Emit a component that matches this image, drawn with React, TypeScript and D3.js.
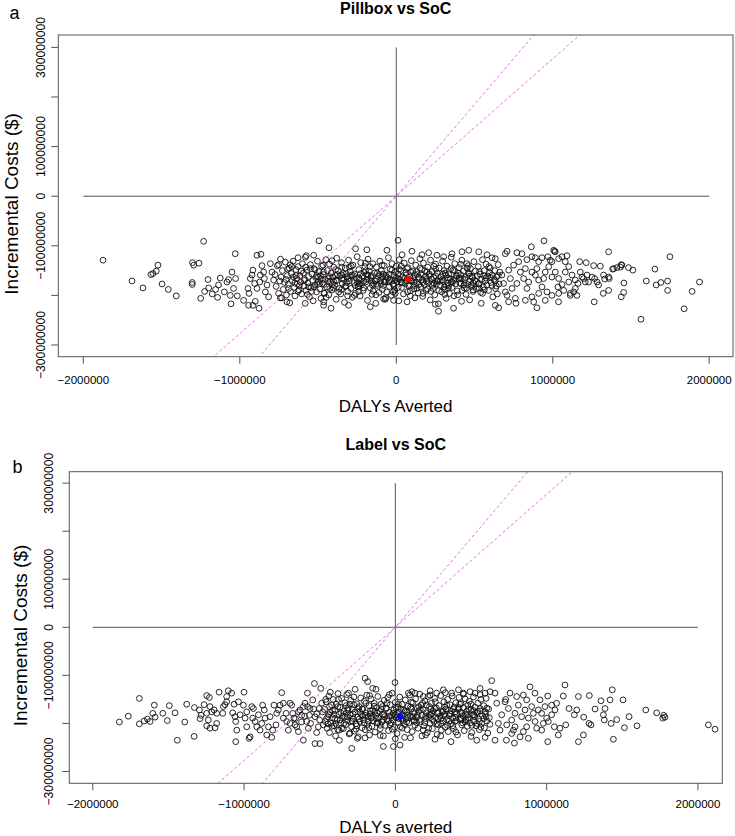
import React from "react";
import * as d3 from "d3";

// ---- Data (DALYs averted in thousands, incremental costs in millions of $) ----
const PILLBOX_POINTS: [number, number][] = [
  [-1874,-129],[-1231,-91],[-1689,-171],[-1619,-185],[-1568,-158],[-1555,-156],[-1534,-151],[-1523,-139],[-1497,-177],[-1457,-188],
  [-1406,-201],[-1302,-134],[-1295,-139],[-1261,-135],[-1304,-174],[-1304,-178],[-1250,-206],[-1225,-192],[-1203,-168],[-1199,-185],
  [-1176,-197],[-1155,-188],[-1142,-204],[-1136,-179],[-1125,-165],[-1099,-193],[-1082,-173],[-1072,-168],[-1061,-200],[-1056,-217],
  [-1050,-153],[-1040,-186],[-1029,-116],[-1027,-166],[-1016,-201],
  [-976,-210],[-944,-220],[-941,-196],[-933,-166],[-916,-149],[-905,-176],[-890,-119],[-865,-117],[-858,-140],[-901,-212],
  [-877,-226],[-916,-220],[-948,-186],[-922,-159],[-890,-186],[-869,-159],[-843,-166],[-826,-179],[-837,-193],[-805,-136],
  [-794,-153],[-816,-203],[-784,-169],[-848,-153],[-873,-173],
  [-494,-90],[-430,-104],[-260,-106],[-188,-108],[-60,-109],[-628,-124],[-575,-120],[-528,-119],[-752,-138],[-677,-138],
  [-582,-216],[-417,-226],[-305,-220],[-166,-223],[-699,-213],[-464,-220],[-17,-210],[-70,-208],[-464,-213],[-741,-205],
  [-775,-158],[-768,-182],[-760,-140],[-752,-196],[-745,-171],[-740,-127],[-733,-205],[-736,-163],
  [-728,-150],[-722,-188],[-715,-174],[-709,-133],[-702,-199],[-696,-160],[-690,-178],[-684,-145],[-681,-215],
  [-676,-192],[-671,-156],[-665,-170],[-659,-131],[-652,-184],[-647,-201],[-641,-148],[-636,-166],[-632,-177],
  [-627,-142],[-622,-189],[-616,-160],[-611,-173],[-605,-197],[-600,-136],[-594,-155],[-589,-181],[-584,-168],[-581,-123],
  [-577,-190],[-571,-149],[-566,-175],[-560,-162],[-555,-203],[-549,-138],[-544,-184],[-539,-157],[-534,-170],[-531,-211],
  [-526,-146],[-521,-179],[-515,-164],[-510,-193],[-504,-131],[-499,-172],[-494,-152],[-489,-187],[-484,-160],[-481,-206],
  [-477,-141],[-472,-176],[-466,-158],[-461,-195],[-455,-168],[-450,-128],[-445,-183],[-440,-150],[-435,-166],[-431,-199],
  [-427,-137],[-421,-172],[-416,-155],[-411,-189],[-405,-163],[-400,-143],[-394,-180],[-389,-160],[-384,-208],[-381,-125],
  [-377,-170],[-372,-150],[-366,-186],[-361,-161],[-355,-197],[-350,-134],[-344,-176],[-339,-156],[-334,-168],[-331,-214],
  [-326,-145],[-321,-181],[-316,-163],[-310,-192],[-305,-129],[-300,-171],[-295,-152],[-290,-186],[-285,-159],[-281,-204],
  [-277,-139],[-272,-174],[-266,-157],[-261,-196],[-255,-166],[-250,-122],[-244,-183],[-239,-148],[-234,-169],[-231,-201],
  [-227,-134],[-221,-178],[-216,-161],[-211,-190],[-205,-154],[-200,-142],[-195,-173],[-189,-158],[-184,-210],[-181,-127],
  [-177,-167],[-172,-151],[-166,-185],[-161,-164],[-155,-198],[-150,-136],[-145,-177],[-139,-155],[-134,-171],[-131,-216],
  [-127,-143],[-122,-180],[-116,-162],[-110,-194],[-105,-131],[-100,-170],[-95,-150],[-89,-188],[-84,-157],[-81,-207],
  [-77,-140],[-72,-173],[-66,-159],[-61,-193],[-55,-165],[-50,-124],[-44,-182],[-39,-147],[-34,-168],[-31,-200],
  [-27,-136],[-21,-177],[-16,-160],[-10,-189],[-5,-153],[0,-141],[5,-172],[11,-157],[16,-211],[19,-128],
  [24,-168],[29,-150],[35,-184],[40,-163],[46,-197],[51,-135],[57,-176],[62,-154],[67,-170],[69,-213],
  [74,-144],[79,-181],[85,-161],[90,-191],[96,-130],[101,-171],[106,-151],[112,-187],[117,-158],[119,-205],
  [124,-139],[129,-174],[135,-158],[140,-195],[146,-166],[151,-126],[156,-183],[162,-148],[167,-169],[169,-202],
  [174,-135],[179,-178],[185,-162],[190,-190],[196,-153],[201,-143],[206,-174],[212,-157],[217,-209],[219,-129],
  [224,-167],[229,-152],[235,-186],[240,-164],[246,-199],[251,-137],[257,-177],[262,-155],[267,-171],[269,-217],
  [274,-145],[279,-180],[285,-163],[290,-193],[296,-131],[301,-172],[306,-150],[312,-188],[317,-159],[319,-206],
  [324,-141],[329,-175],[335,-158],[340,-196],[346,-167],[351,-123],[356,-184],[362,-149],[367,-170],[369,-201],
  [374,-136],[379,-177],[385,-161],[390,-191],[396,-155],[401,-144],[406,-175],[412,-158],[417,-212],[419,-129],
  [424,-166],[429,-151],[435,-185],[440,-164],[446,-198],[451,-136],[457,-178],[462,-154],[467,-172],[469,-209],
  [474,-146],[479,-182],[485,-162],[490,-192],[496,-132],[501,-170],[506,-151],[512,-187],[517,-160],
  [524,-142],[529,-176],[535,-157],[540,-194],[546,-168],[551,-128],[556,-183],[562,-150],[567,-171],
  [574,-137],[579,-179],[585,-161],[590,-190],[596,-154],[601,-145],[606,-174],[612,-159],[617,-203],
  [624,-168],[629,-150],[635,-186],[640,-163],[646,-197],[651,-138],[657,-177],[662,-153],
  [-498,-163],[-462,-178],[-437,-171],[-402,-185],[-376,-158],[-347,-166],[-318,-174],[-292,-161],[-263,-180],[-238,-165],
  [-209,-172],[-182,-159],[-153,-179],[-124,-168],[-98,-176],[-67,-162],[-42,-170],[-14,-181],[13,-166],[38,-175],
  [63,-159],[92,-170],[118,-180],[143,-163],[171,-174],[197,-166],[226,-178],[253,-161],[281,-171],[307,-183],
  [333,-165],[358,-174],[386,-160],[413,-177],[438,-168],[466,-157],[492,-175],[-520,-148],[-410,-130],[-300,-143],
  [-196,-150],[-90,-139],[20,-147],[130,-152],[240,-141],[350,-146],[460,-140],[-460,-196],[-350,-188],[-240,-192],
  [-130,-199],[-20,-193],[90,-201],[200,-187],[310,-198],[420,-190],[530,-185],
  [-705,-168],[-688,-186],[-668,-142],[-648,-175],[-628,-192],[-608,-151],[-588,-170],[-568,-198],[-548,-146],[-528,-183],
  [-508,-160],[-488,-176],[-468,-139],[-448,-204],[-428,-162],[-408,-178],[-388,-148],[-368,-193],[-348,-159],[-328,-182],
  [-308,-166],[-288,-141],[-268,-200],[-248,-174],[-228,-156],[-208,-185],[-188,-168],[-168,-142],[-148,-191],[-128,-177],
  [-108,-158],[-88,-163],[-68,-205],[-48,-173],[-28,-149],[-8,-169],[12,-184],[32,-141],[52,-165],[72,-193],
  [92,-153],[112,-173],[132,-186],[152,-145],[172,-196],[192,-171],[212,-160],[232,-180],[252,-147],[272,-190],
  [292,-169],[312,-155],[332,-186],[352,-172],[372,-150],[392,-199],[412,-166],[432,-179],[452,-145],[472,-161],
  [492,-189],[512,-172],[532,-152],[552,-196],[572,-165],[592,-142],[612,-180],[632,-171],[652,-160],
  [-695,-147],[-657,-163],[-619,-180],[-579,-143],[-541,-192],[-503,-178],[-465,-153],[-425,-186],[-387,-170],[-349,-143],
  [-311,-201],[-273,-160],[-235,-177],[-197,-135],[-159,-171],[-121,-155],[-83,-180],[-45,-158],[-7,-196],[31,-173],
  [69,-146],[107,-165],[145,-178],[183,-150],[221,-192],[259,-170],[297,-157],[335,-181],[373,-166],[411,-137],
  [449,-185],[487,-164],[525,-177],[563,-189],[601,-164],[639,-181],
  [-640,-160],[-560,-183],[-480,-167],[-400,-172],[-320,-156],[-240,-181],[-160,-160],[-80,-173],[0,-164],[80,-178],
  [160,-158],[240,-175],[320,-180],[400,-167],[480,-178],[560,-160],
  [11,-89],[1172,-132],[1214,-134],[1261,-140],[1304,-141],[1251,-163],[1283,-173],[1187,-163],[1208,-173],[1161,-176],
  [1144,-186],[1112,-196],[1112,-200],[1293,-179],[1325,-159],[1332,-167],[1383,-147],[1410,-144],[1438,-138],
  [1059,-122],[1091,-120],[1080,-132],[1038,-126],[1006,-109],[1016,-112],[984,-129],[969,-122],[931,-124],[910,-132],
  [889,-124],[867,-122],[835,-128],[803,-116],[771,-114],[708,-111],[697,-116],[633,-126],[612,-124],[580,-118],
  [527,-112],[463,-109],[420,-112],[356,-116],[303,-122],[260,-119],[207,-114],[164,-118],[100,-111],[37,-118],
  [1016,-153],[995,-163],[1038,-166],[1059,-178],[1033,-183],[1070,-190],[1102,-173],[1123,-159],[1144,-169],[1176,-153],
  [1197,-166],[1219,-159],[1229,-173],[1268,-166],[974,-142],[952,-153],[942,-166],[910,-169],[889,-159],[931,-183],
  [963,-193],[910,-196],[867,-203],[835,-186],[846,-173],[814,-166],[793,-153],[771,-176],[740,-186],[729,-166],
  [718,-149],[750,-139],[782,-132],[697,-193],[686,-176],[675,-159],[708,-200],[825,-146],[867,-153],[899,-146],
  [995,-132],[1080,-153],[1102,-142],[1134,-193],[1155,-200],[1038,-196],[995,-200],[952,-210],[878,-213],[825,-210],
  [761,-206],[718,-213],
  [944,-90],[863,-102],[1012,-111],[1357,-112],[1749,-122],[1653,-147],[1484,-144],[1512,-149],[1442,-139],[1433,-143],
  [1389,-146],[1357,-163],[1361,-166],[1455,-175],[1598,-171],[1661,-179],[1691,-174],[1734,-171],[1938,-173],[1891,-192],
  [1734,-190],[1840,-227],[1564,-248],[1453,-194],[1438,-203],[1357,-190],[1323,-196],[1265,-213],[1037,-213],[899,-225],
  [765,-216],[654,-225],[633,-220],[543,-216],[366,-226],[270,-232],[249,-218],
];

const LABEL_POINTS: [number, number][] = [
  [-1824,-197],[-1765,-185],[-1692,-148],[-1692,-201],[-1661,-195],[-1639,-191],[-1621,-196],[-1603,-179],[-1588,-187],[-1593,-162],
  [-1537,-179],[-1507,-194],[-1494,-163],[-1456,-178],[-1441,-235],[-1392,-197],[-1379,-160],[-1330,-227],[-1328,-167],[-1295,-172],
  [-1291,-190],[-1284,-183],[-1264,-161],[-1247,-142],[-1229,-146],[-1247,-205],[-1225,-210],[-1192,-209],
  [-1214,-176],[-1198,-172],[-1181,-179],[-1165,-135],[-1141,-179],[-1126,-161],[-1115,-144],[-1104,-132],[-1082,-137],[-1075,-178],
  [-1066,-160],[-1060,-186],[-1055,-196],[-1048,-214],[-1055,-238],[-1000,-135],[-1004,-162],[-993,-189],[-982,-176],[-967,-231],
  [-960,-228],[-949,-165],[-943,-189],[-927,-196],[-916,-207],[-894,-214],[-877,-162],[-861,-189],[-850,-224],[-817,-229],
  [-802,-162],[-789,-203],[-773,-172],[-751,-136],[-740,-158],[-722,-179],[-707,-214],[-696,-200],[-685,-162],[-670,-189],
  [-652,-207],[-630,-172],[-608,-235],[-597,-158],[-581,-137],[-575,-210],[-568,-183],[-535,-117],[-531,-242],[-520,-219],
  [-498,-242],[-493,-127],[-487,-158],[-476,-203],
  [-1225,-165],[-1247,-179],[-1236,-193],[-1181,-200],[-1115,-155],[-1137,-165],[-1037,-155],[-1026,-182],[-982,-207],[-938,-169],
  [-905,-182],[-883,-200],[-866,-172],[-839,-207],[-828,-186],[-811,-214],[-784,-179],[-762,-162],[-740,-189],[-718,-196],
  [-696,-158],[-678,-179],[-663,-203],[-641,-217],[-619,-183],[-608,-165],[-586,-196],[-564,-169],[-546,-151],[-531,-186],
  [-509,-207],[-502,-169],
  [-200,-106],[-183,-113],[-150,-127],[-128,-129],[-266,-129],[-2,-115],[-288,-252],[-79,-248],[-13,-248],[-370,-235],[-251,-231],
  [-468,-171],[-463,-196],[-457,-155],[-451,-210],[-446,-186],[-440,-143],[-435,-219],[-430,-177],[-425,-200],[-421,-162],
  [-417,-188],[-411,-150],[-406,-205],[-400,-173],[-395,-226],[-390,-160],[-384,-193],[-379,-138],[-374,-181],[-371,-214],
  [-366,-166],[-361,-199],[-355,-148],[-350,-185],[-344,-211],[-339,-174],[-334,-157],[-329,-203],[-324,-179],[-321,-140],
  [-316,-194],[-311,-168],[-305,-222],[-300,-182],[-295,-152],[-289,-207],[-284,-171],[-279,-190],[-274,-145],[-271,-216],
  [-266,-176],[-261,-201],[-255,-159],[-250,-187],[-245,-228],[-239,-165],[-234,-196],[-229,-147],[-224,-182],[-221,-209],
  [-216,-170],[-211,-192],[-205,-154],[-200,-213],[-194,-178],[-189,-141],[-184,-202],[-179,-186],[-174,-163],[-171,-224],
  [-166,-180],[-161,-149],[-155,-206],[-150,-172],[-145,-194],[-139,-158],[-134,-218],[-129,-184],[-124,-167],[-121,-199],
  [-116,-144],[-111,-189],[-105,-175],[-100,-211],[-95,-160],[-89,-197],[-84,-181],[-79,-226],[-74,-152],[-71,-186],
  [-66,-204],[-61,-169],[-55,-191],[-50,-146],[-45,-215],[-39,-177],[-34,-161],[-29,-199],[-24,-183],[-21,-137],
  [-16,-193],[-11,-172],[-5,-208],[0,-156],[5,-188],[11,-221],[16,-166],[21,-198],[26,-178],[29,-145],
  [34,-207],[39,-183],[45,-160],[50,-195],[55,-172],[61,-229],[66,-151],[71,-190],[76,-176],[79,-213],
  [84,-164],[89,-199],[95,-141],[100,-185],[105,-170],[111,-217],[116,-157],[121,-193],[126,-180],[129,-204],
  [134,-149],[139,-187],[145,-168],[150,-210],[155,-175],[161,-139],[166,-196],[171,-162],[176,-226],[179,-183],
  [184,-171],[189,-205],[195,-153],[200,-190],[205,-178],[211,-219],[216,-144],[221,-186],[226,-165],[229,-200],
  [234,-182],[239,-158],[245,-211],[250,-174],[255,-196],[261,-148],[266,-188],[271,-168],[276,-223],[279,-179],
  [284,-203],[289,-163],[295,-185],[300,-142],[305,-214],[311,-176],[316,-195],[321,-155],[326,-181],[329,-208],
  [334,-170],[339,-192],[345,-150],[350,-217],[355,-184],[361,-161],[366,-201],[371,-174],[376,-143],[379,-189],
  [384,-211],[389,-166],[395,-196],[400,-157],[405,-180],[411,-224],[416,-171],[421,-146],[426,-191],[429,-177],
  [434,-159],[439,-203],[445,-184],[450,-167],[455,-215],[461,-149],[466,-193],[471,-175],[476,-206],[479,-162],
  [484,-188],[489,-154],[495,-199],[500,-171],[505,-219],[511,-182],[516,-145],[521,-196],[526,-166],
  [534,-205],[539,-178],[545,-158],[550,-191],[555,-213],[561,-169],[566,-150],[571,-200],[576,-184],
  [584,-163],[589,-209],[595,-176],[600,-148],[605,-195],[611,-220],[616,-170],[621,-188],
  [-440,-182],[-400,-190],[-360,-178],[-320,-186],[-280,-180],[-240,-191],[-200,-183],[-160,-189],[-120,-178],[-80,-192],
  [-40,-185],[0,-181],[40,-190],[80,-183],[120,-177],[160,-192],[200,-185],[240,-179],[280,-190],[320,-184],
  [360,-180],[400,-188],[440,-178],[480,-192],[520,-182],[560,-174],[600,-186],[-420,-206],[-340,-200],[-260,-212],
  [-180,-195],[-100,-204],[-20,-212],[60,-202],[140,-198],[220,-210],[300,-200],[380,-205],[460,-197],[540,-200],
  [-380,-165],[-300,-160],[-220,-170],[-140,-164],[-60,-168],[20,-160],[100,-166],[180,-158],[260,-169],[340,-162],
  [420,-167],[500,-160],
  [-455,-190],[-435,-165],[-415,-173],[-395,-200],[-375,-150],[-355,-210],[-335,-187],[-315,-172],[-295,-196],[-275,-161],
  [-255,-205],[-235,-176],[-215,-184],[-195,-158],[-175,-209],[-155,-187],[-135,-175],[-115,-198],[-95,-170],[-75,-182],
  [-55,-158],[-35,-203],[-15,-179],[5,-167],[25,-190],[45,-210],[65,-174],[85,-188],[105,-156],[125,-196],
  [145,-183],[165,-171],[185,-214],[205,-162],[225,-181],[245,-192],[265,-155],[285,-177],[305,-189],[325,-166],
  [345,-204],[365,-180],[385,-170],[405,-194],[425,-160],[445,-199],[465,-181],[485,-170],[505,-204],[525,-186],
  [545,-175],[565,-208],[585,-190],[605,-168],[625,-202],
  [-520,-180],[-500,-193],[-480,-176],[-560,-200],[-600,-185],[-640,-176],[-540,-170],[-620,-197],[-580,-165],[-660,-190],
  [-445,-201],[-405,-181],[-365,-193],[-325,-163],[-285,-195],[-245,-169],[-205,-199],[-165,-174],[-125,-190],[-85,-165],
  [-45,-195],[-5,-186],[35,-170],[75,-197],[115,-186],[155,-165],[195,-198],[235,-170],[275,-201],[315,-174],
  [355,-195],[395,-176],[435,-191],[475,-183],[515,-173],[555,-196],[595,-181],
  [-460,-150],[-380,-213],[-300,-220],[-200,-230],[-100,-225],[0,-232],[100,-230],[200,-224],[300,-226],[400,-218],
  [500,-227],[-430,-135],[-310,-137],[-170,-142],[-40,-140],[110,-134],[230,-132],[330,-136],[450,-139],[560,-140],
  [2069,-203],[2113,-212],[1774,-183],[1782,-187],[1767,-189],[1727,-178],[1655,-172],[1597,-205],[1514,-209],[1545,-186],
  [1505,-151],[1434,-130],[1441,-233],[1463,-192],[1426,-200],[1419,-151],[1381,-193],[1375,-182],[1386,-169],[1359,-153],
  [1320,-170],[1282,-142],[1293,-203],[1280,-200],[1243,-224],[1210,-238],[1245,-187],[1210,-144],[1199,-172],[1183,-182],
  [1148,-169],[1121,-120],[1110,-143],[1126,-203],[1088,-210],[1077,-224],[1066,-158],[1055,-172],[1033,-182],[1007,-143],
  [1007,-238],[1000,-189],[978,-200],[956,-151],[945,-172],[923,-196],[923,-137],[890,-124],[879,-231],[868,-207],
  [846,-141],[824,-228],[787,-241],[780,-214],[769,-221],[734,-235],[659,-235],[637,-111],[593,-229],[538,-235],
  [368,-238],[262,-233],[31,-245],
  [857,-172],[835,-186],[813,-162],[791,-179],[769,-193],[747,-169],[725,-155],[703,-182],[681,-200],[879,-189],
  [901,-165],[912,-179],[967,-179],[989,-165],[1011,-196],[1033,-162],[1051,-207],[967,-214],[934,-210],[868,-151],
  [802,-144],[758,-137],[729,-150],[846,-217],[791,-207],[736,-203],[692,-214],[670,-158],[659,-137],[626,-134],
  [593,-137],[560,-127],[527,-137],[494,-134],[450,-137],[417,-130],[372,-137],[317,-130],[273,-137],[229,-141],
  [185,-144],[130,-137],[86,-137],
];

const PILLBOX_MEAN: [number, number] = [75, -167];
const LABEL_MEAN: [number, number] = [31, -185];

const WTP_THRESHOLDS = [370, 277]; // $ per DALY averted

const X_TICKS = [-2000000, -1000000, 0, 1000000, 2000000];
const Y_TICKS = [-300000000, -200000000, -100000000, 0, 100000000, 200000000, 300000000];
const Y_LABELED = [-300000000, -100000000, 0, 100000000, 300000000];
const REF_X_EXTENT = [-2000000, 2000000];
const REF_Y_EXTENT = [-300000000, 300000000];

const DALY_UNIT = 1000;
const COST_UNIT = 1000000;

const FONT = "'Liberation Sans', Arial, Helvetica, sans-serif";
const AXIS_COLOR = "#555";

type PanelProps = {
  id: string;
  points: [number, number][];
  mean: [number, number];
  meanColor: string;
  title: string;
  letter: string;
  xLabel: string;
  box: { x0: number; x1: number; y0: number; y1: number };
  xDomain: [number, number];
  yDomain: [number, number];
  titleY: number;
  letterPos: [number, number];
  yTickLabelX: number;
  xTickLabelY: number;
  xTitleY: number;
  yTitleX: number;
};

function Panel(p: PanelProps) {
  const x = d3.scaleLinear().domain(p.xDomain).range([p.box.x0, p.box.x1]);
  const y = d3.scaleLinear().domain(p.yDomain).range([p.box.y1, p.box.y0]);
  const fmt = d3.format("d");
  const cx = (p.box.x0 + p.box.x1) / 2;
  const cy = (p.box.y0 + p.box.y1) / 2;
  const tick = 7;
  const line = d3.line<[number, number]>().x((d) => x(d[0])).y((d) => y(d[1]));
  return (
    <g>
      <defs>
        <clipPath id={`clip-${p.id}`}>
          <rect x={p.box.x0} y={p.box.y0} width={p.box.x1 - p.box.x0} height={p.box.y1 - p.box.y0} />
        </clipPath>
      </defs>
      <text x={cx} y={p.titleY} textAnchor="middle" fontWeight="bold" fontSize={16} fontFamily={FONT}>{p.title}</text>
      <text x={p.letterPos[0]} y={p.letterPos[1]} fontSize={18} fontFamily={FONT}>{p.letter}</text>
      <line x1={x(REF_X_EXTENT[0])} x2={x(REF_X_EXTENT[1])} y1={y(0)} y2={y(0)} stroke={AXIS_COLOR} strokeWidth={1} />
      <line x1={x(0)} x2={x(0)} y1={y(REF_Y_EXTENT[0])} y2={y(REF_Y_EXTENT[1])} stroke={AXIS_COLOR} strokeWidth={1} />
      <g>
        {p.points.map((d, i) => (
          <circle key={i} cx={x(d[0] * DALY_UNIT)} cy={y(d[1] * COST_UNIT)} r={2.9} fill="none" stroke="#111" strokeWidth={0.9} />
        ))}
      </g>
      <g clipPath={`url(#clip-${p.id})`}>
        {WTP_THRESHOLDS.map((w, i) => (
          <path key={i} d={line([[p.xDomain[0], p.xDomain[0] * w], [p.xDomain[1], p.xDomain[1] * w]]) || ""}
            fill="none" stroke="#e35ee3" strokeWidth={0.9} strokeDasharray="3,2.5" />
        ))}
      </g>
      <circle cx={x(p.mean[0] * DALY_UNIT)} cy={y(p.mean[1] * COST_UNIT)} r={3.1} fill={p.meanColor} />
      <rect x={p.box.x0} y={p.box.y0} width={p.box.x1 - p.box.x0} height={p.box.y1 - p.box.y0} fill="none" stroke={AXIS_COLOR} strokeWidth={1} />
      {X_TICKS.map((t) => (
        <g key={t}>
          <line x1={x(t)} x2={x(t)} y1={p.box.y1} y2={p.box.y1 + tick} stroke={AXIS_COLOR} />
          <text x={x(t)} y={p.xTickLabelY} textAnchor="middle" fontSize={11.5} fontFamily={FONT}>{fmt(t)}</text>
        </g>
      ))}
      {Y_TICKS.map((t) => (
        <line key={t} x1={p.box.x0 - tick} x2={p.box.x0} y1={y(t)} y2={y(t)} stroke={AXIS_COLOR} />
      ))}
      {Y_LABELED.map((t) => (
        <text key={t} transform={`translate(${p.yTickLabelX},${y(t)}) rotate(-90)`} textAnchor="middle" fontSize={12.2} fontFamily={FONT}>{fmt(t)}</text>
      ))}
      <text x={cx} y={p.xTitleY} textAnchor="middle" fontSize={17} fontFamily={FONT}>{p.xLabel}</text>
      <text transform={`translate(${p.yTitleX},${cy + 8}) rotate(-90)`} textAnchor="middle" fontSize={19} fontFamily={FONT}>Incremental Costs ($)</text>
    </g>
  );
}

export default function App() {
  return (
    <svg width={735} height={836} style={{ position: "absolute", left: 0, top: 0, background: "#fff" }}>
      <rect width={735} height={836} fill="#fff" />
      <Panel
        id="a"
        points={PILLBOX_POINTS}
        mean={PILLBOX_MEAN}
        meanColor="#ff0000"
        title="Pillbox vs SoC"
        letter="a"
        xLabel="DALYs Averted"
        box={{ x0: 58.3, x1: 733, y0: 35, y1: 356.7 }}
        xDomain={[-2160000, 2152000]}
        yDomain={[-323600000, 325000000]}
        titleY={13.5}
        letterPos={[9.5, 18.5]}
        yTickLabelX={44.5}
        xTickLabelY={383.5}
        xTitleY={412}
        yTitleX={17.5}
      />
      <Panel
        id="b"
        points={LABEL_POINTS}
        mean={LABEL_MEAN}
        meanColor="#0000ff"
        title="Label vs SoC"
        letter="b"
        xLabel="DALYs averted"
        box={{ x0: 69.3, x1: 722.3, y0: 471.7, y1: 783.3 }}
        xDomain={[-2155000, 2161000]}
        yDomain={[-324600000, 323800000]}
        titleY={450}
        letterPos={[12.5, 473]}
        yTickLabelX={53}
        xTickLabelY={808}
        xTitleY={833}
        yTitleX={27}
      />
    </svg>
  );
}
